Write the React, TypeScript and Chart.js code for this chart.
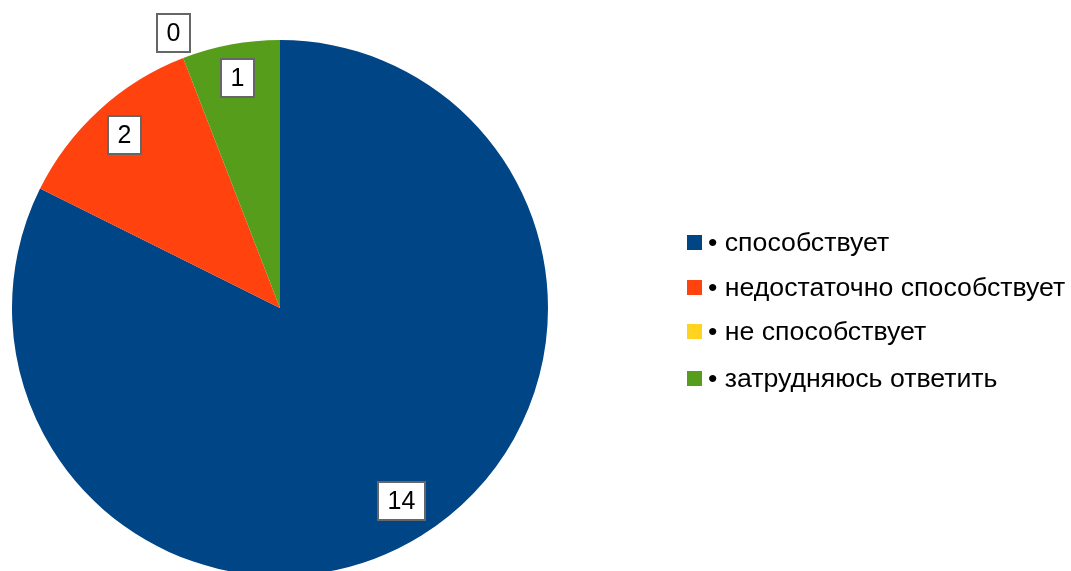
import React, { useEffect, useRef } from "react";
import { Chart, registerables } from "chart.js";

Chart.register(...registerables);

const categories = [
  "способствует",
  "недостаточно способствует",
  "не способствует",
  "затрудняюсь ответить",
];
const values = [14, 2, 0, 1];
const colors = ["#004586", "#ff420e", "#ffd320", "#579d1c"];

const FONT = "'Liberation Sans', Arial, sans-serif";

const labelPlugin = {
  id: "boxLabels",
  afterDatasetsDraw(chart: any) {
    const ctx = chart.ctx;
    const meta = chart.getDatasetMeta(0);
    ctx.save();
    ctx.font = `25px ${FONT}`;
    ctx.textAlign = "center";
    ctx.textBaseline = "middle";
    meta.data.forEach((arc: any, i: number) => {
      const { x, y, startAngle, endAngle, outerRadius } = arc.getProps(
        ["x", "y", "startAngle", "endAngle", "outerRadius"],
        true
      );
      const mid = (startAngle + endAngle) / 2;
      const v = values[i];
      const dist = v === 0 ? outerRadius * 1.1 : outerRadius * 0.86;
      const cx = x + Math.cos(mid) * dist;
      const cy = y + Math.sin(mid) * dist - (v === 0 ? 0 : 3);
      const text = String(v);
      const tw = ctx.measureText(text).width;
      const w = Math.round(tw + 19);
      const h = 38;
      const lx = Math.round(cx - w / 2);
      const ly = Math.round(cy - h / 2);
      ctx.fillStyle = "#ffffff";
      ctx.fillRect(lx, ly, w, h);
      ctx.strokeStyle = "#666666";
      ctx.lineWidth = 2;
      ctx.strokeRect(lx, ly, w, h);
      ctx.fillStyle = "#000000";
      ctx.fillText(text, lx + w / 2, ly + h / 2 + 1);
    });
    ctx.restore();
  },
};

export default function App() {
  const ref = useRef<HTMLCanvasElement>(null);
  useEffect(() => {
    if (!ref.current) return;
    const chart = new Chart(ref.current, {
      type: "pie",
      data: {
        labels: categories,
        datasets: [
          {
            data: values,
            backgroundColor: colors,
            borderWidth: 0,
          },
        ],
      },
      options: {
        animation: false,
        responsive: false,
        rotation: 0,
        layout: { padding: { left: 12, top: 40, right: 523, bottom: 24 } },
        plugins: {
          legend: { display: false },
          tooltip: { enabled: false },
        },
      },
      plugins: [labelPlugin],
    });
    return () => chart.destroy();
  }, []);

  const legendTops = [242, 287, 331, 378];
  return (
    <div
      style={{
        position: "fixed",
        left: 0,
        top: 0,
        width: 1071,
        height: 571,
        overflow: "hidden",
        background: "#fff",
      }}
    >
      <canvas
        ref={ref}
        width={1071}
        height={600}
        style={{ position: "absolute", left: 0, top: 0, width: 1071, height: 600 }}
      />
      {categories.map((c, i) => (
        <div
          key={c}
          style={{
            position: "absolute",
            left: 687,
            top: legendTops[i] - 16,
            height: 32,
            display: "flex",
            alignItems: "center",
            fontFamily: FONT,
            fontSize: 26.7,
            color: "#000",
            whiteSpace: "nowrap",
          }}
        >
          <span
            style={{
              display: "inline-block",
              width: 15,
              height: 15,
              background: colors[i],
              marginRight: 6,
            }}
          />
          <span>{"• " + c}</span>
        </div>
      ))}
    </div>
  );
}
